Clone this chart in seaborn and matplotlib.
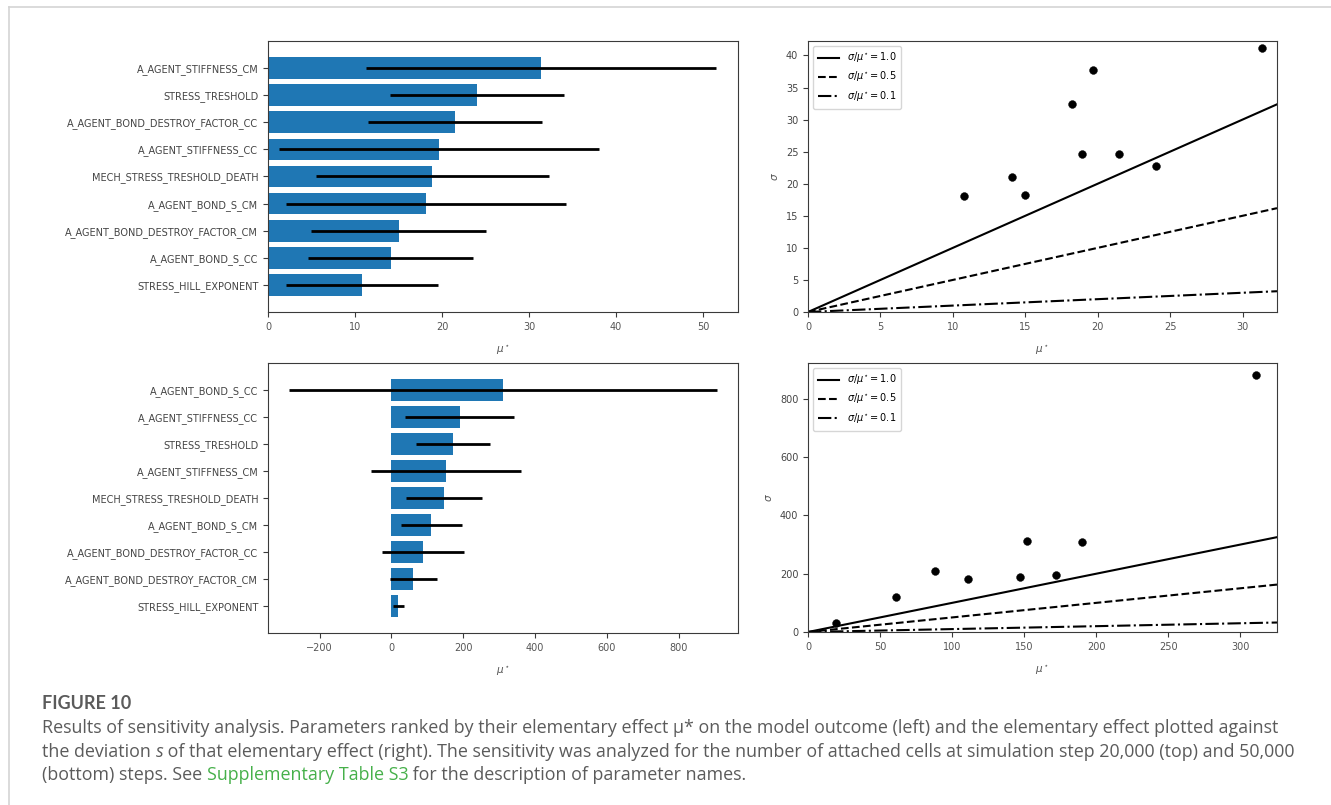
import numpy as np
import matplotlib
matplotlib.use("Agg")
import matplotlib.pyplot as plt
from matplotlib.lines import Line2D
import seaborn as sns

# ---------------- data ----------------
names_20k = ["A_AGENT_STIFFNESS_CM", "STRESS_TRESHOLD", "A_AGENT_BOND_DESTROY_FACTOR_CC",
             "A_AGENT_STIFFNESS_CC", "MECH_STRESS_TRESHOLD_DEATH", "A_AGENT_BOND_S_CM",
             "A_AGENT_BOND_DESTROY_FACTOR_CM", "A_AGENT_BOND_S_CC", "STRESS_HILL_EXPONENT"]
mu_star_20k = [31.35, 24.0, 21.5, 19.7, 18.9, 18.2, 15.0, 14.1, 10.8]
conf_20k = [20.1, 10.0, 10.0, 18.4, 13.4, 16.1, 10.1, 9.5, 8.7]
sigma_20k = [41.1, 22.7, 24.7, 37.8, 24.6, 32.4, 18.3, 21.0, 18.1]

names_50k = ["A_AGENT_BOND_S_CC", "A_AGENT_STIFFNESS_CC", "STRESS_TRESHOLD",
             "A_AGENT_STIFFNESS_CM", "MECH_STRESS_TRESHOLD_DEATH", "A_AGENT_BOND_S_CM",
             "A_AGENT_BOND_DESTROY_FACTOR_CC", "A_AGENT_BOND_DESTROY_FACTOR_CM", "STRESS_HILL_EXPONENT"]
mu_star_50k = [311, 190, 172, 152, 147, 111, 88, 61, 19.5]
conf_50k = [595, 153, 102, 209, 105, 85, 115, 66, 15]
sigma_50k = [881, 308, 195, 311, 188, 181, 208, 119, 31]

ratios = [1.0, 0.5, 0.1]
ratio_styles = ["-", "--", "-."]

caption_title = "FIGURE 10"
caption_lines = [
    [("Results of sensitivity analysis. Parameters ranked by their elementary effect \u03bc* on the model outcome (left) and the elementary effect plotted against", "normal")],
    [("the deviation ", "normal"), ("s", "italic"),
     (" of that elementary effect (right). The sensitivity was analyzed for the number of attached cells at simulation step 20,000 (top) and 50,000", "normal")],
    [("(bottom) steps. See ", "normal"), ("Supplementary Table S3", "link"),
     (" for the description of parameter names.", "normal")],
]

# ---------------- style ----------------
plt.rcParams["font.family"] = ["DejaVu Sans"]
plt.rcParams["axes.edgecolor"] = "#3a3a3a"
plt.rcParams["xtick.color"] = "#3a3a3a"
plt.rcParams["ytick.color"] = "#3a3a3a"
plt.rcParams["xtick.labelcolor"] = "#555555"
plt.rcParams["ytick.labelcolor"] = "#444444"
plt.rcParams["axes.labelcolor"] = "#555555"
plt.rcParams["xtick.labelsize"] = 7
plt.rcParams["ytick.labelsize"] = 7
plt.rcParams["axes.labelsize"] = 7.5

W, H = 1331, 805
fig = plt.figure(figsize=(W / 100, H / 100), dpi=100)


def axes_px(left, top, right, bottom):
    return fig.add_axes([left / W, 1 - bottom / H, (right - left) / W, (bottom - top) / H])


def bar_panel(ax, names, mu, conf):
    sns.barplot(x=mu, y=names, orient="h", color="#1f77b4", saturation=1,
                errorbar=None, width=0.8, ax=ax)
    ax.set_autoscalex_on(True)
    ax.errorbar(mu, np.arange(len(names)), xerr=conf, fmt="none",
                ecolor="black", elinewidth=2.0, capsize=0)
    ax.autoscale_view(scalex=True, scaley=False)
    ax.set_ylim(len(names), -1)
    ax.set_xlabel(r"$\mu^\star$", labelpad=8)
    ax.set_ylabel("")
    ax.tick_params(axis="both", length=3.5, width=0.8)


def cov_panel(ax, mu, sigma):
    sns.scatterplot(x=mu, y=sigma, color="black", s=32, edgecolor="black",
                    linewidth=0.3, ax=ax, zorder=3)
    ax.set_xlim(0, None)
    ax.set_ylim(0, None)
    xb = np.array(ax.get_xlim())
    handles = []
    labels = []
    for r, ls in zip(ratios, ratio_styles):
        ln, = ax.plot(xb, r * xb, color="black", linestyle=ls, linewidth=1.5)
        handles.append(ln)
        labels.append(r"$\sigma / \mu^{\star} = %.1f$" % r)
    ax.legend(handles, labels, loc="upper left", fontsize=7, frameon=True,
              framealpha=0.8, edgecolor="#cccccc", handlelength=2.2, borderpad=0.5)
    ax.set_xlabel(r"$\mu^\star$", labelpad=8)
    ax.set_ylabel(r"$\sigma$")
    ax.tick_params(axis="both", length=3.5, width=0.8)


ax1 = axes_px(268, 41, 738, 312)
bar_panel(ax1, names_20k, mu_star_20k, conf_20k)
ax2 = axes_px(808, 41, 1277, 312)
cov_panel(ax2, mu_star_20k, sigma_20k)
ax3 = axes_px(268, 363, 738, 633)
bar_panel(ax3, names_50k, mu_star_50k, conf_50k)
ax4 = axes_px(808, 363, 1277, 632)
cov_panel(ax4, mu_star_50k, sigma_50k)

# ---------------- page frame ----------------
fig.add_artist(Line2D([9 / W, 1], [1 - 7 / H, 1 - 7 / H], transform=fig.transFigure,
                      color="#d4d4d4", linewidth=1.2))
fig.add_artist(Line2D([9 / W, 9 / W], [0, 1 - 7 / H], transform=fig.transFigure,
                      color="#d4d4d4", linewidth=1.2))

# ---------------- caption ----------------
cap_font = ["Open Sans", "DejaVu Sans"]
gray = "#5b5b5b"
green = "#46b04a"
fig.text(42 / W, 1 - 703 / H, caption_title, fontsize=13, fontweight="bold",
         color=gray, family=["Lato", "DejaVu Sans"], va="center", ha="left")

renderer = fig.canvas.get_renderer()
line_y = [728, 752, 775]
for segs, ypx in zip(caption_lines, line_y):
    xpx = 42.0
    for txt, kind in segs:
        t = fig.text(xpx / W, 1 - ypx / H, txt, fontsize=12.9, family=cap_font,
                     color=green if kind == "link" else gray,
                     style="italic" if kind == "italic" else "normal",
                     va="center", ha="left")
        bb = t.get_window_extent(renderer=renderer)
        xpx += bb.width

fig.savefig("out.png", dpi=100)
